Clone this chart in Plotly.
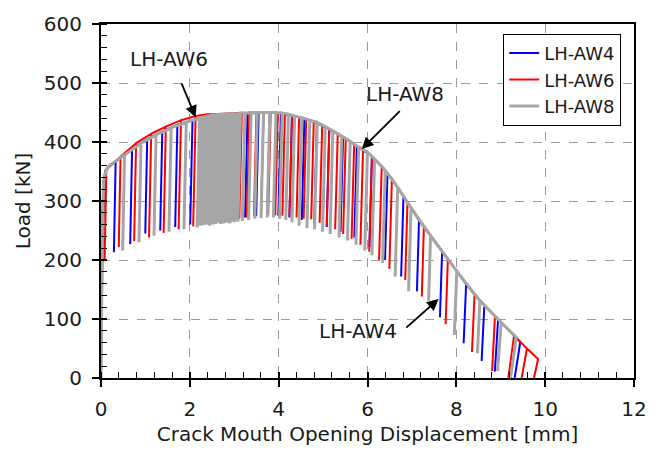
import numpy as np
import plotly.graph_objects as go

# ---- Load vs. CMOD data (kN, mm) ----
# Initial elastic loading branch of each specimen
aw4_rise_x = [0.0, 0.010, 0.025, 0.050, 0.100, 0.200]
aw4_rise_y = [0.0, 100.0, 250.0, 330.0, 352.0, 361.0]
aw6_rise_x = [0.0, 0.015, 0.040, 0.080]
aw6_rise_y = [0.0, 100.0, 250.0, 335.0]
aw8_rise_x = [0.0, 0.012, 0.030, 0.060, 0.120, 0.200]
aw8_rise_y = [0.0, 100.0, 250.0, 335.0, 353.0, 361.0]

# Unloading cycles: CMOD at unloading, load at unloading, load at end of unloading
aw4_cyc_x = [0.33, 0.70, 1.04, 1.38, 1.72, 2.06, 2.40, 2.72, 3.02, 3.30, 3.55, 3.80, 4.05, 4.30,
             4.58, 4.86, 5.14, 5.45, 5.76, 6.10, 6.45, 6.81, 7.16, 7.68, 8.22, 8.63, 8.94, 9.44]
aw4_cyc_top = [367, 388, 405, 418, 429, 437, 443, 447, 448, 449, 450, 450, 449, 445,
               440, 432, 422, 408, 393, 376, 347, 309, 267, 215, 159, 123, 100, 61]
aw4_cyc_low = [213, 227, 245, 250, 256, 260, 262, 265, 268, 272, 274, 276, 275, 272,
               268, 262, 256, 248, 238, 222, 200, 172, 147, 103, 59, 29, 11, 0]

aw6_cyc_x = [0.12, 0.44, 0.79, 1.13, 1.46, 1.80, 2.13, 2.40, 2.62, 2.82, 3.00, 3.17, 3.34, 3.50,
             3.66, 3.82, 3.98, 4.14, 4.30, 4.46, 4.62, 4.79, 4.98, 5.14, 5.33, 5.51, 5.70, 5.90,
             6.10, 6.32, 6.55, 6.90, 7.27, 7.81, 8.41, 8.87, 9.30, 9.59, 9.84]
aw6_cyc_top = [353, 375, 398, 414, 426, 437, 444, 447, 447, 448, 449, 449, 450, 450,
               450, 450, 449, 447, 445, 442, 439, 435, 428, 422, 414, 406, 396, 388,
               376, 359, 338, 298, 257, 202, 141, 105, 72, 50, 32]
aw6_cyc_low = [198, 222, 232, 238, 246, 252, 257, 262, 264, 266, 268, 270, 272, 274,
               275, 276, 276, 275, 274, 272, 270, 269, 263, 258, 252, 244, 236, 226,
               214, 200, 185, 166, 138, 91, 44, 12, 0, 0, 0]

aw8_cyc_x = [0.53, 0.90, 1.24, 1.58, 1.92,
             2.22, 2.26, 2.29, 2.33, 2.36, 2.40, 2.43, 2.47, 2.50, 2.54, 2.57, 2.61,
             2.64, 2.68, 2.71, 2.75, 2.78, 2.82, 2.85, 2.89, 2.92, 2.96, 2.99, 3.03,
             3.06, 3.10, 3.14,
             3.24, 3.38, 3.52, 3.66, 3.80, 3.94, 4.08, 4.22, 4.36, 4.52, 4.70, 4.87,
             5.05, 5.22, 5.42, 5.61, 5.80, 6.00, 6.16, 6.40, 6.68, 6.98, 7.42, 8.01,
             8.53, 9.01, 9.35]
aw8_cyc_top = [378, 398, 412, 424, 434,
               440, 441, 442, 442, 443, 443, 444, 444, 445, 445, 445, 446,
               446, 446, 447, 447, 447, 447, 447, 448, 448, 448, 448, 448,
               448, 448, 449,
               449, 449, 450, 450, 450, 450, 449, 447, 444, 441, 437, 433,
               426, 419, 410, 401, 391, 383, 371, 352, 323, 288, 241, 181,
               131, 94, 69]
aw8_cyc_low = [216, 230, 241, 248, 252,
               255, 262, 258, 263, 259, 264, 260, 262, 258, 264, 260, 265,
               261, 263, 266, 261, 264, 262, 266, 263, 267, 262, 265, 268,
               264, 267, 265,
               266, 268, 270, 271, 272, 272, 270, 268, 264, 258, 254, 252,
               248, 244, 238, 233, 226, 216, 208, 195, 172, 147, 131, 73,
               42, 12, 0]

series_names = ["LH-AW4", "LH-AW6", "LH-AW8"]
series_colors = ["#0000FF", "#FF0000", "#A6A6A6"]
series_widths = [2, 2, 3]


def compliance(x):
    # unloading branch lean (mm per kN), grows as the crack opens
    return np.interp(x, [0.0, 7.5, 8.9, 9.3, 9.9], [0.00025, 0.0004, 0.0007, 0.0018, 0.003])


def build_path(rx, ry, cx, ct, cl):
    xs, ys = list(rx), list(ry)
    n = len(cx)
    for i, (x, t, l) in enumerate(zip(cx, ct, cl)):
        lean = float(compliance(x)) * (t - l)
        if i < n - 1:
            xs += [x, x - lean, x]
            ys += [t, l, t]
        else:
            xs += [x, x - lean]
            ys += [t, l]
    return xs, ys


paths = [
    build_path(aw4_rise_x, aw4_rise_y, aw4_cyc_x, aw4_cyc_top, aw4_cyc_low),
    build_path(aw6_rise_x, aw6_rise_y, aw6_cyc_x, aw6_cyc_top, aw6_cyc_low),
    build_path(aw8_rise_x, aw8_rise_y, aw8_cyc_x, aw8_cyc_top, aw8_cyc_low),
]

FONT = "DejaVu Sans"
TXT = "#1a1a1a"
FS = 20

fig = go.Figure()
for (xs, ys), name, col, w in zip(paths, series_names, series_colors, series_widths):
    fig.add_trace(go.Scatter(x=xs, y=ys, mode="lines", name=name,
                             line=dict(color=col, width=w), hoverinfo="skip"))

# helper trace for the overlay axes carrying the inner half of the major ticks
fig.add_trace(go.Scatter(x=[None], y=[None], xaxis="x2", yaxis="y2",
                         showlegend=False, hoverinfo="skip"))

axis_common = dict(showline=True, linecolor="black", linewidth=2, mirror=True,
                   ticks="outside", ticklen=7, tickwidth=1.5, tickcolor="black",
                   showgrid=True, gridcolor="#9a9a9a", griddash="dash", gridwidth=1,
                   zeroline=False,
                   tickfont=dict(family=FONT, size=FS, color=TXT))

fig.update_layout(
    width=659, height=454,
    margin=dict(l=101, r=18, t=18, b=73),
    paper_bgcolor="white", plot_bgcolor="white",
    xaxis=dict(range=[0, 12], dtick=2, tick0=0, ticklabelstandoff=5,
               minor=dict(dtick=0.4, ticks="inside", ticklen=6, tickcolor="black", tickwidth=1.2),
               title=dict(text="Crack Mouth Opening Displacement [mm]",
                          font=dict(family=FONT, size=FS, color=TXT), standoff=7),
               **axis_common),
    yaxis=dict(range=[0, 600], dtick=100, tick0=0, ticklabelstandoff=6,
               minor=dict(dtick=20, ticks="inside", ticklen=6, tickcolor="black", tickwidth=1.2),
               title=dict(text="Load [kN]", font=dict(family=FONT, size=FS, color=TXT), standoff=8),
               **axis_common),
    xaxis2=dict(range=[0, 12], dtick=2, tick0=0, overlaying="x", anchor="y2",
                ticks="inside", ticklen=6, tickwidth=1.5, tickcolor="black",
                showticklabels=False, showgrid=False, zeroline=False, showline=False),
    yaxis2=dict(range=[0, 600], dtick=100, tick0=0, overlaying="y", anchor="x2", side="left",
                ticks="inside", ticklen=6, tickwidth=1.5, tickcolor="black",
                showticklabels=False, showgrid=False, zeroline=False, showline=False),
    legend=dict(x=0.976, y=0.972, xanchor="right", yanchor="top",
                bgcolor="white", bordercolor="black", borderwidth=1,
                font=dict(family=FONT, size=18, color=TXT),
                tracegroupgap=0, itemwidth=30),
    showlegend=True,
)

# specimen labels with pointer arrows
labels = [
    ("LH-AW6", 1.53, 541, 1.80, 502, 2.13, 442),
    ("LH-AW8", 6.84, 481, 6.76, 455, 5.87, 388),
    ("LH-AW4", 5.78, 79, 6.84, 83, 7.60, 134),
]
for text, tx, ty, ax_, ay_, hx, hy in labels:
    fig.add_annotation(x=tx, y=ty, text=text, showarrow=False,
                       font=dict(family=FONT, size=FS, color=TXT))
    fig.add_annotation(x=hx, y=hy, ax=ax_, ay=ay_, axref="x", ayref="y", text="",
                       showarrow=True, arrowhead=2, arrowsize=1.3, arrowwidth=1.8,
                       arrowcolor="black")

fig.write_html("out.html")
